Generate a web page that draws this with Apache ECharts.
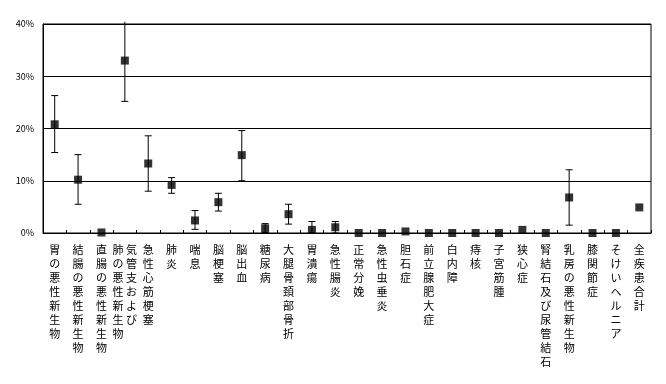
<!DOCTYPE html>
<html>
<head>
<meta charset="utf-8">
<script src="https://cdn.jsdelivr.net/npm/echarts@6/dist/echarts.min.js"></script>
<style>html,body{margin:0;padding:0;background:#fff}#c{width:666px;height:384px}</style>
</head>
<body>
<div id="c"></div>
<script>
const categories = ['胃の悪性新生物','結腸の悪性新生物','直腸の悪性新生物','気管支および肺の悪性新生物','急性心筋梗塞','肺炎','喘息','脳梗塞','脳出血','糖尿病','大腿骨頚部骨折','胃潰瘍','急性腸炎','正常分娩','急性虫垂炎','胆石症','前立腺肥大症','白内障','痔核','子宮筋腫','狭心症','腎結石及び尿管結石','乳房の悪性新生物','膝関節症','そけいヘルニア','全疾患合計'];
const values = [20.8,10.2,0.1,33.0,13.3,9.2,2.4,5.9,14.9,0.9,3.6,0.6,1.1,0,0,0.3,0,0,0,0,0.6,0,6.8,0,0,4.9];
const lowerBounds = [15.4,5.5,null,25.2,8.0,7.6,0.7,4.2,10.0,0.1,1.7,0,0,null,null,null,null,null,null,null,null,null,1.5,null,null,null];
const upperBounds = [26.3,15.0,null,40.4,18.6,10.6,4.3,7.6,19.6,1.8,5.5,2.2,2.2,null,null,null,null,null,null,null,null,null,12.1,null,null,null];
const yTicks = [0,10,20,30,40];

const errData = [];
categories.forEach((c,i)=>{ if(lowerBounds[i]!==null) errData.push([i, lowerBounds[i], upperBounds[i]]); });

function verticalLabel(name){
  if(name==='気管支および肺の悪性新生物'){
    const left = '肺の悪性新生物'.split('');
    const right = '気管支および'.split('');
    const lines=[];
    for(let i=0;i<left.length;i++){
      lines.push(left[i]+' '+(right[i]!==undefined?right[i]:'　'));
    }
    return lines.join('\n');
  }
  return name.split('').join('\n');
}

const chart = echarts.init(document.getElementById('c'));
const font = '"Noto Sans CJK JP", sans-serif';
chart.setOption({
  animation:false,
  grid:{left:43,right:15,top:24,bottom:151,show:true,borderColor:'#000',borderWidth:1},
  xAxis:{
    type:'category', data:categories, boundaryGap:true,
    axisLine:{lineStyle:{color:'#000',width:1}},
    axisTick:{show:true,inside:true,length:3,lineStyle:{color:'#000'}},
    axisLabel:{interval:0,margin:10,color:'#000',fontFamily:font,fontSize:11,lineHeight:14,verticalAlign:'top',formatter:verticalLabel}
  },
  yAxis:{
    type:'value', min:yTicks[0], max:yTicks[yTicks.length-1], interval:10,
    axisLine:{show:true,lineStyle:{color:'#000'}},
    axisTick:{show:false},
    splitLine:{lineStyle:{color:'#000',width:1}},
    axisLabel:{color:'#000',fontFamily:font,fontSize:9,margin:9,formatter:'{value}%'}
  },
  series:[
    {
      type:'custom', data:errData, z:2,
      renderItem:function(params, api){
        const x = api.value(0);
        const lo = api.coord([x, api.value(1)]);
        const hi = api.coord([x, api.value(2)]);
        const hw = 3.5;
        const st = {stroke:'#000', lineWidth:1};
        const ch = [
          {type:'line', shape:{x1:lo[0],y1:lo[1],x2:hi[0],y2:hi[1]}, style:st},
          {type:'line', shape:{x1:lo[0]-hw,y1:lo[1],x2:lo[0]+hw,y2:lo[1]}, style:st}
        ];
        if(api.value(2)<=40) ch.push({type:'line', shape:{x1:hi[0]-hw,y1:hi[1],x2:hi[0]+hw,y2:hi[1]}, style:st});
        return {type:'group', children:ch};
      }
    },
    {
      type:'scatter', data:values, symbol:'rect', symbolSize:8, z:3,
      itemStyle:{color:'#000'}
    }
  ]
});
</script>
</body>
</html>
